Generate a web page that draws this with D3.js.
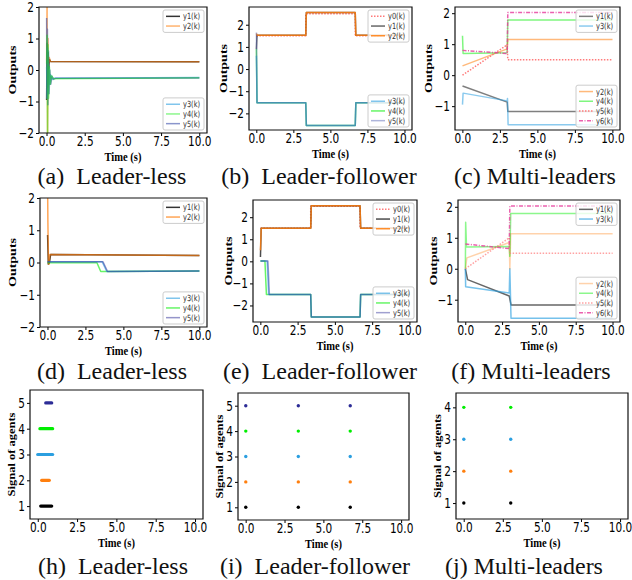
<!DOCTYPE html>
<html>
<head>
<meta charset="utf-8">
<script src="https://cdn.jsdelivr.net/npm/d3@7"></script>
<style>
  body { margin: 0; background: #fff; }
  svg { display: block; }
</style>
</head>
<body>
<svg id="fig" width="632" height="580"></svg>
<script>
// ---- shared ticks ----
const timeDomain = [-0.5, 10.5];
const timeTicks = [0, 2.5, 5, 7.5, 10];

// ---- (a) leader-less, outputs [t, value] ----
const aY1 = [[0,-0.95],[0.03,0.85],[0.06,-0.55],[0.1,0.55],[0.14,0.05],[0.19,0.33],[0.26,0.27],[10,0.26]];
const aY2 = [[0,0.3],[0.03,2.5],[0.06,-2.3],[0.09,1.0],[0.12,-0.3],[0.17,0.4],[0.25,0.27],[10,0.26]];
const aY3 = [[0,0.1],[0.03,-0.9],[0.06,0.7],[0.1,-0.75],[0.14,0.2],[0.19,-0.45],[0.26,-0.15],[0.35,-0.3],[0.5,-0.26],[10,-0.24]];
const aY4 = [[0,0.2],[0.03,1.1],[0.06,-2.2],[0.09,0.8],[0.13,-0.9],[0.18,0.1],[0.24,-0.45],[0.32,-0.18],[0.45,-0.28],[10,-0.25]];
const aY5 = [[0,1.65],[0.02,-0.9],[0.05,1.3],[0.08,-1.1],[0.12,0.6],[0.16,-0.75],[0.21,0.0],[0.27,-0.45],[0.35,-0.2],[0.45,-0.3],[0.6,-0.26],[10,-0.25]];

// ---- (b) leader-follower ----
const bY0 = [[0,1.5],[3.33,1.5],[3.33,2.5],[6.67,2.5],[6.67,1.5],[10,1.5]];
const bY1 = [[0,0.9],[0.04,1.52],[3.33,1.52],[3.37,2.55],[6.67,2.55],[6.71,1.52],[10,1.52]];
const bY2 = [[0,1.6],[0.04,1.52],[3.33,1.52],[3.37,2.55],[6.67,2.55],[6.71,1.52],[10,1.52]];
const bY3 = [[0,0.6],[0.04,-1.52],[3.33,-1.52],[3.37,-2.55],[6.67,-2.55],[6.71,-1.52],[10,-1.52]];
const bY4 = [[0,0.9],[0.04,-1.52],[3.33,-1.52],[3.37,-2.55],[6.67,-2.55],[6.71,-1.52],[10,-1.52]];
const bY5 = [[0,1.65],[0.04,-1.52],[3.33,-1.52],[3.37,-2.55],[6.67,-2.55],[6.71,-1.52],[10,-1.52]];

// ---- (c) multi-leaders ----
const cY1 = [[0,-0.35],[2.98,-0.87],[3.02,-1.17],[10,-1.17]];
const cY2 = [[0,0.3],[2.98,0.85],[3.02,1.15],[10,1.15]];
const cY3 = [[0,-0.95],[0.04,-0.58],[2.98,-0.83],[3.0,-0.75],[3.04,-1.6],[10,-1.6]];
const cY4 = [[0,1.27],[0.04,0.7],[2.98,0.72],[3.02,1.78],[10,1.78]];
const cY5 = [[0,0.0],[2.98,0.98],[3.02,0.5],[10,0.5]];
const cY6 = [[0,0.8],[2.98,0.7],[3.02,2.02],[10,2.02]];

// ---- (d) leader-less ----
const dY1 = [[0,0.85],[0.05,-0.05],[0.12,0.0],[0.2,0.25],[10,0.22]];
const dY2 = [[0,2.4],[0.02,1.25],[0.06,-0.05],[0.1,-0.05],[0.15,0.25],[10,0.22]];
const dY3 = [[0,0.02],[3.6,0.02],[3.9,-0.28],[10,-0.26]];
const dY4 = [[0,-0.01],[3.25,-0.01],[3.5,-0.28],[10,-0.26]];
const dY5 = [[0,0.02],[3.65,0.02],[3.95,-0.28],[10,-0.26]];

// ---- (e) leader-follower ----
const eY0 = [[0,1.5],[3.37,1.5],[3.37,2.5],[6.68,2.5],[6.68,1.5],[10,1.5]];
const eY1 = [[0,0.2],[0.05,1.5],[3.37,1.5],[3.41,2.52],[6.68,2.52],[6.72,1.5],[10,1.5]];
const eY2 = [[0,0.5],[0.05,1.5],[3.37,1.5],[3.41,2.52],[6.68,2.52],[6.72,1.5],[10,1.5]];
const eY3 = [[0,0.02],[0.45,0.02],[0.55,-1.5],[3.37,-1.5],[3.41,-2.52],[6.68,-2.52],[6.72,-1.5],[10,-1.5]];
const eY4 = [[0,0.02],[0.3,0.02],[0.4,-1.5],[3.37,-1.5],[3.41,-2.52],[6.68,-2.52],[6.72,-1.5],[10,-1.5]];
const eY5 = [[0,0.02],[0.5,0.02],[0.6,-1.5],[3.37,-1.5],[3.41,-2.52],[6.68,-2.52],[6.72,-1.5],[10,-1.5]];

// ---- (f) multi-leaders ----
const fY1 = [[0,0],[0.15,-0.35],[2.98,-0.88],[3.1,-1.17],[10,-1.17]];
const fY2 = [[0,0],[0.1,0.35],[2.98,0.85],[3.02,0.0],[3.08,1.13],[10,1.13]];
const fY3 = [[0,0],[0.02,-0.58],[2.98,-0.78],[3.02,0.0],[3.1,-1.6],[10,-1.6]];
const fY4 = [[0,0],[0.02,1.5],[0.08,0.7],[2.98,0.72],[3.02,0.4],[3.08,1.78],[10,1.78]];
const fY5 = [[0,0.0],[2.98,1.0],[3.02,0.5],[10,0.5]];
const fY6 = [[0,0.8],[2.98,0.65],[3.02,2.03],[10,2.03]];

// ---- (h) event spans per agent [agent, start, end] ----
const hSpans = [[1,0.18,0.88],[2,0.24,0.73],[3,-0.01,0.94],[4,0.13,0.94],[5,0.5,0.88]];
// ---- (i), (j) event instants ----
const iTimes = [0, 3.38, 6.72];
const iAgents = [1, 2, 3, 4, 5];
const jTimes = [0, 3];
const jAgents = [1, 2, 3, 4];

// ---- colours ----
const C = { black: '#000000', orange: '#ff7f0e', blue: '#2b9fe0', green: '#00ee00',
            navy: '#2c2c96', slate: '#4b5cb0', pink: '#ff7a7a', magenta: '#e6399b' };
const agentColor = { 1: C.black, 2: C.orange, 3: C.blue, 4: C.green, 5: C.navy };

const SX = 0.78;   // the figure is squeezed horizontally
const svg = d3.select('#fig');
const defs = svg.append('defs');

const S = (name, data, color, o = {}) => Object.assign({ name, data, color }, o);

const panels = [
  { box: [39, 7, 207, 133], yDomain: [-2, 2], yTicks: [-2, -1, 0, 1, 2], ylabel: 'Outputs', ylabOff: 27,
    series: [S('y1(k)', aY1, C.black, {op: 0.8}), S('y2(k)', aY2, C.orange, {op: 0.6}), S('y3(k)', aY3, C.blue, {op: 0.6}),
             S('y5(k)', aY5, C.slate, {op: 0.65}), S('y4(k)', aY4, C.green, {op: 0.45})],
    legends: [['ur', ['y1(k)', 'y2(k)']], ['lr', ['y3(k)', 'y4(k)', 'y5(k)']]],
    caption: '(a)  Leader-less', cx: 112, cy: 184 },
  { box: [249, 7, 412, 130], yDomain: [-2.75, 2.8], yTicks: [-2, -1, 0, 1, 2], ylabel: 'Outputs', ylabOff: 26,
    series: [S('y0(k)', bY0, C.pink, {dash: '1.5,1.5'}), S('y1(k)', bY1, C.black, {op: 0.6}), S('y2(k)', bY2, C.orange, {op: 0.85}),
             S('y4(k)', bY4, C.green, {op: 0.6}), S('y3(k)', bY3, C.blue, {op: 0.6}), S('y5(k)', bY5, C.slate, {op: 0.45})],
    legends: [['ur', ['y0(k)', 'y1(k)', 'y2(k)']], ['lr', ['y3(k)', 'y4(k)', 'y5(k)']]],
    caption: '(b)  Leader-follower', cx: 319, cy: 184 },
  { box: [455, 7, 620, 130], yDomain: [-1.77, 2.2], yTicks: [-1, 0, 1, 2], ylabel: 'Outputs', ylabOff: 27,
    series: [S('y1(k)', cY1, C.black, {op: 0.5}), S('y3(k)', cY3, C.blue, {op: 0.55}), S('y2(k)', cY2, C.orange, {op: 0.55}),
             S('y4(k)', cY4, C.green, {op: 0.5}), S('y5(k)', cY5, C.pink, {dash: '1.5,1.5'}), S('y6(k)', cY6, C.magenta, {dash: '4,1.5,1,1.5', op: 0.8})],
    legends: [['ur', ['y1(k)', 'y3(k)']], ['lr', ['y2(k)', 'y4(k)', 'y5(k)', 'y6(k)']]],
    caption: '(c) Multi-leaders', cx: 535, cy: 184 },
  { box: [40, 198, 207, 327], yDomain: [-2, 2], yTicks: [-2, -1, 0, 1, 2], ylabel: 'Outputs', ylabOff: 28,
    series: [S('y1(k)', dY1, C.black, {op: 0.8}), S('y2(k)', dY2, C.orange, {op: 0.7}), S('y4(k)', dY4, C.green, {op: 0.6}),
             S('y3(k)', dY3, C.blue, {op: 0.6}), S('y5(k)', dY5, C.navy, {op: 0.5})],
    legends: [['ur', ['y1(k)', 'y2(k)']], ['lr', ['y3(k)', 'y4(k)', 'y5(k)']]],
    caption: '(d)  Leader-less', cx: 112, cy: 379 },
  { box: [253, 200, 417, 322], yDomain: [-2.75, 2.78], yTicks: [-2, -1, 0, 1, 2], ylabel: 'Outputs', ylabOff: 25,
    series: [S('y0(k)', eY0, C.pink, {dash: '1.5,1.5'}), S('y1(k)', eY1, C.black, {op: 0.7}), S('y2(k)', eY2, C.orange, {op: 0.85}),
             S('y4(k)', eY4, C.green, {op: 0.6}), S('y3(k)', eY3, C.blue, {op: 0.6}), S('y5(k)', eY5, C.navy, {op: 0.45})],
    legends: [['ur', ['y0(k)', 'y1(k)', 'y2(k)']], ['lr', ['y3(k)', 'y4(k)', 'y5(k)']]],
    caption: '(e)  Leader-follower', cx: 320, cy: 379 },
  { box: [458, 200, 620, 322], yDomain: [-1.72, 2.22], yTicks: [-1, 0, 1, 2], ylabel: 'Outputs', ylabOff: 25,
    series: [S('y1(k)', fY1, C.black, {op: 0.6}), S('y3(k)', fY3, C.blue, {op: 0.65}), S('y2(k)', fY2, C.orange, {op: 0.35}),
             S('y4(k)', fY4, C.green, {op: 0.45}), S('y5(k)', fY5, C.pink, {dash: '1.5,1.5', op: 0.7}), S('y6(k)', fY6, C.magenta, {dash: '4,1.5,1,1.5', op: 0.8})],
    legends: [['ur', ['y1(k)', 'y3(k)']], ['lr', ['y2(k)', 'y4(k)', 'y5(k)', 'y6(k)']]],
    caption: '(f) Multi-leaders', cx: 531, cy: 379 },
  { box: [30, 390, 203, 519], yDomain: [0.5, 5.5], yTicks: [1, 2, 3, 4, 5], ylabel: 'Signal of agents', ylabOff: 18,
    spans: hSpans, caption: '(h)  Leader-less', cx: 113, cy: 574 },
  { box: [238, 393, 409, 520], yDomain: [0.5, 5.5], yTicks: [1, 2, 3, 4, 5], ylabel: 'Signal of agents', ylabOff: 18,
    dots: d3.cross(iTimes, iAgents), caption: '(i)  Leader-follower', cx: 315, cy: 574 },
  { box: [456, 393, 628, 519], yDomain: [0.5, 4.45], yTicks: [1, 2, 3, 4], ylabel: 'Signal of agents', ylabOff: 18,
    dots: d3.cross(jTimes, jAgents), caption: '(j) Multi-leaders', cx: 524, cy: 574 }
];

function drawLegend(g, series, names, corner, W, H) {
  const items = names.map(n => series.find(s => s.name === n));
  const rowH = 9.7, boxW = 41 / SX, boxH = items.length * rowH + 3;
  const bx = W - 3 / SX - boxW;
  const by = corner === 'ur' ? 3 : H - 3 - boxH;
  const lg = g.append('g').attr('transform', `translate(${bx},${by})`);
  lg.append('rect').attr('width', boxW).attr('height', boxH).attr('rx', 2 / SX).attr('ry', 2)
    .attr('fill', '#fff').attr('fill-opacity', 0.8).attr('stroke', '#cccccc')
    .attr('vector-effect', 'non-scaling-stroke');
  items.forEach((s, i) => {
    const cy = 1.5 + rowH * (i + 0.5);
    lg.append('line').attr('x1', 3 / SX).attr('x2', 17 / SX).attr('y1', cy).attr('y2', cy)
      .attr('stroke', s.color).attr('stroke-width', 1.5).attr('stroke-opacity', s.op ?? 1)
      .attr('stroke-dasharray', s.dash || null).attr('vector-effect', 'non-scaling-stroke');
    lg.append('text').attr('x', 20 / SX).attr('y', cy).attr('dy', '0.35em')
      .attr('font-family', 'DejaVu Sans').attr('font-size', 8.5).attr('fill', '#333').text(s.name);
  });
}

panels.forEach((p, idx) => {
  const [x0, y0, x1, y1] = p.box;
  const W = (x1 - x0) / SX, H = y1 - y0;
  const g = svg.append('g').attr('transform', `translate(${x0},${y0}) scale(${SX},1)`);
  const x = d3.scaleLinear().domain(timeDomain).range([0, W]);
  const y = d3.scaleLinear().domain(p.yDomain).range([H, 0]);

  defs.append('clipPath').attr('id', 'clip' + idx)
    .append('rect').attr('width', W).attr('height', H);
  const plot = g.append('g').attr('clip-path', `url(#clip${idx})`);

  if (p.series) {
    const line = d3.line().x(d => x(d[0])).y(d => y(d[1]));
    p.series.forEach(s => {
      plot.append('path').attr('d', line(s.data)).attr('fill', 'none')
        .attr('stroke', s.color).attr('stroke-width', 1.5).attr('stroke-opacity', s.op ?? 1)
        .attr('stroke-dasharray', s.dash || null).attr('stroke-linejoin', 'round')
        .attr('vector-effect', 'non-scaling-stroke');
    });
  }
  if (p.spans) {
    plot.selectAll('line.span').data(p.spans).join('line').attr('class', 'span')
      .attr('x1', d => x(d[1])).attr('x2', d => x(d[2]))
      .attr('y1', d => y(d[0])).attr('y2', d => y(d[0]))
      .attr('stroke', d => agentColor[d[0]]).attr('stroke-width', 3.2).attr('stroke-linecap', 'round')
      .attr('vector-effect', 'non-scaling-stroke');
  }
  if (p.dots) {
    plot.selectAll('ellipse').data(p.dots).join('ellipse')
      .attr('cx', d => x(d[0])).attr('cy', d => y(d[1]))
      .attr('rx', 1.7 / SX).attr('ry', 1.7)
      .attr('fill', d => agentColor[d[1]]);
  }

  // axes
  const xa = g.append('g').attr('transform', `translate(0,${H})`)
    .call(d3.axisBottom(x).tickValues(timeTicks).tickFormat(d3.format('.1f')).tickSize(3).tickPadding(0));
  const ya = g.append('g')
    .call(d3.axisLeft(y).tickValues(p.yTicks).tickFormat(d3.format('d')).tickSize(3 / SX).tickPadding(2 / SX));
  [xa, ya].forEach(a => {
    a.select('.domain').remove();
    a.selectAll('.tick line').attr('stroke', '#000').attr('vector-effect', 'non-scaling-stroke');
    a.selectAll('.tick text').attr('font-family', 'DejaVu Sans').attr('font-size', 13.5).attr('fill', '#000');
  });

  g.append('rect').attr('width', W).attr('height', H).attr('fill', 'none')
    .attr('stroke', '#111').attr('stroke-width', 1.2).attr('vector-effect', 'non-scaling-stroke');

  if (p.legends) p.legends.forEach(([corner, names]) => drawLegend(g, p.series, names, corner, W, H));

  g.append('text').attr('x', W / 2).attr('y', H + 28).attr('text-anchor', 'middle')
    .attr('font-family', 'Liberation Serif').attr('font-weight', 'bold').attr('font-size', 13.5)
    .text('Time (s)');
  g.append('text').attr('transform', `translate(${-p.ylabOff / SX},${H / 2}) rotate(-90)`)
    .attr('text-anchor', 'middle').attr('dy', '0.35em')
    .attr('font-family', 'Liberation Serif').attr('font-weight', 'bold')
    .attr('font-size', p.ylabel === 'Outputs' ? 14 : 12.5).text(p.ylabel);

  svg.append('text').attr('x', p.cx).attr('y', p.cy).attr('text-anchor', 'middle')
    .attr('font-family', 'Liberation Serif').attr('font-size', 24).attr('fill', '#111')
    .style('white-space', 'pre').text(p.caption);
});
</script>
</body>
</html>
